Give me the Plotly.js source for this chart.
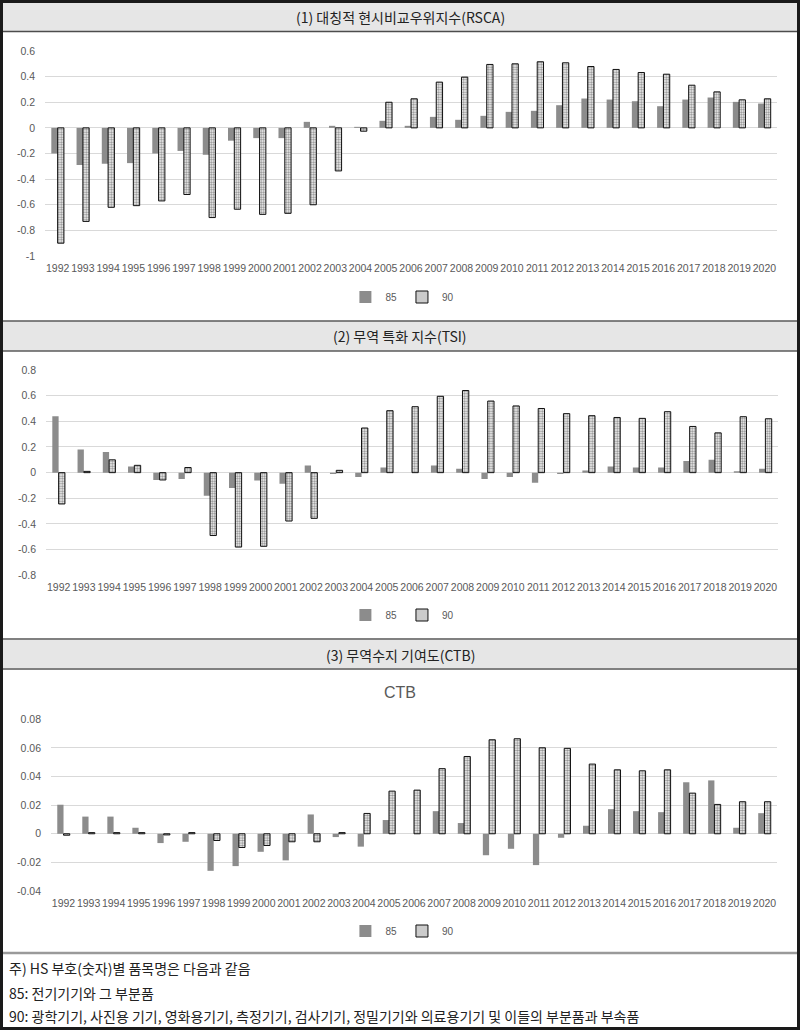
<!DOCTYPE html>
<html>
<head>
<meta charset="utf-8">
<script src="https://cdn.plot.ly/plotly-3.0.1.min.js"></script>
<style>
  html, body { margin: 0; padding: 0; background: #ffffff; }
  #chart { width: 800px; height: 1030px; }
</style>
</head>
<body>
<div id="chart"></div>
<script>
// ---------------- data ----------------
const years = ['1992','1993','1994','1995','1996','1997','1998','1999','2000','2001','2002','2003','2004','2005','2006','2007','2008','2009','2010','2011','2012','2013','2014','2015','2016','2017','2018','2019','2020'];

const rsca85 = [-0.20,-0.29,-0.28,-0.275,-0.20,-0.18,-0.21,-0.10,-0.08,-0.08,0.047,0.016,0.008,0.055,0.016,0.086,0.063,0.094,0.125,0.133,0.177,0.229,0.221,0.208,0.169,0.221,0.237,0.203,0.19];
const rsca90 = [-0.90,-0.73,-0.62,-0.607,-0.57,-0.52,-0.70,-0.635,-0.675,-0.667,-0.60,-0.336,-0.026,0.20,0.227,0.357,0.396,0.495,0.50,0.516,0.508,0.479,0.456,0.432,0.419,0.333,0.281,0.219,0.227];

const tsi85 = [0.44,0.18,0.16,0.047,-0.057,-0.05,-0.18,-0.12,-0.062,-0.086,0.055,-0.01,-0.034,0.04,0,0.055,0.031,-0.05,-0.034,-0.078,-0.01,0.016,0.047,0.04,0.04,0.09,0.10,0.01,0.031];
const tsi90 = [-0.244,0.01,0.10,0.057,-0.057,0.04,-0.49,-0.58,-0.574,-0.377,-0.356,0.018,0.348,0.483,0.514,0.595,0.64,0.558,0.52,0.50,0.46,0.444,0.43,0.423,0.475,0.36,0.31,0.436,0.42];

const ctb85 = [0.0203,0.012,0.012,0.0042,-0.0065,-0.0056,-0.0259,-0.0226,-0.0126,-0.0186,0.0135,-0.0023,-0.009,0.0096,0,0.0158,0.0075,-0.015,-0.0105,-0.0219,-0.0028,0.0056,0.0172,0.0158,0.0151,0.036,0.0373,0.0042,0.0144];
const ctb90 = [-0.001,0.0008,0.0008,0.0008,-0.0008,0.0008,-0.0047,-0.0096,-0.0082,-0.0056,-0.0056,0.0008,0.0142,0.0298,0.0305,0.0455,0.054,0.0657,0.0664,0.0601,0.0597,0.0487,0.0447,0.044,0.0447,0.0284,0.0205,0.0224,0.0224];

const seriesNames = ['85', '90'];

const rscaTicks = [0.6,0.4,0.2,0,-0.2,-0.4,-0.6,-0.8,-1];
const rscaTickText = ['0.6','0.4','0.2','0','-0.2','-0.4','-0.6','-0.8','-1'];
const tsiTicks = [0.8,0.6,0.4,0.2,0,-0.2,-0.4,-0.6,-0.8];
const tsiTickText = ['0.8','0.6','0.4','0.2','0','-0.2','-0.4','-0.6','-0.8'];
const ctbTicks = [0.08,0.06,0.04,0.02,0,-0.02,-0.04];
const ctbTickText = ['0.08','0.06','0.04','0.02','0','-0.02','-0.04'];

const panelTitles = ['(1) 대칭적 현시비교우위지수(RSCA)', '(2) 무역 특화 지수(TSI)', '(3) 무역수지 기여도(CTB)'];
const innerTitle = 'CTB';
const notes = [
  '주) HS 부호(숫자)별 품목명은 다음과 같음',
  '85: 전기기기와 그 부분품',
  '90: 광학기기, 사진용 기기, 영화용기기, 측정기기, 검사기기, 정밀기기와 의료용기기 및 이들의 부분품과 부속품'
];

// ---------------- helpers ----------------
const W = 800, H = 1030;
const px = x => x / W;
const py = y => 1 - y / H;

const style85 = { color: '#8c8c8c' };
const style90 = {
  color: '#ffffff',
  line: { color: '#111111', width: 1 },
  pattern: { shape: '.', fgcolor: '#8a8a8a', bgcolor: '#ffffff', size: 2.5, solidity: 0.5 }
};

function pair(vals85, vals90, xa, ya, leg) {
  return [
    { type: 'bar', x: years, y: vals85, name: seriesNames[0], marker: style85, xaxis: xa, yaxis: ya, legend: leg, hoverinfo: 'x+y+name' },
    { type: 'bar', x: years, y: vals90, name: seriesNames[1], marker: style90, xaxis: xa, yaxis: ya, legend: leg, hoverinfo: 'x+y+name' }
  ];
}

const data = [].concat(
  pair(rsca85, rsca90, 'x', 'y', 'legend'),
  pair(tsi85, tsi90, 'x2', 'y2', 'legend2'),
  pair(ctb85, ctb90, 'x3', 'y3', 'legend3')
);

const tickFont = { family: 'Liberation Sans, Arial, sans-serif', size: 10.5, color: '#595959' };

function xaxis(l, r, anchor) {
  return {
    domain: [px(l), px(r)], anchor: anchor, type: 'category',
    showgrid: false, zeroline: false, showline: false, ticks: '',
    tickangle: 0, tickfont: tickFont, ticklabelstandoff: 4, fixedrange: true
  };
}
function yaxis(top, bottom, range, vals, text, anchor) {
  return {
    domain: [py(bottom), py(top)], anchor: anchor, range: range,
    tickvals: vals, ticktext: text, tickfont: tickFont,
    showgrid: true, gridcolor: '#d9d9d9', gridwidth: 1,
    zeroline: false, showline: false, ticks: '', ticklabelstandoff: 9, fixedrange: true
  };
}

function legendAt(y) {
  return {
    orientation: 'h', x: 0.503, xanchor: 'center', y: py(y), yanchor: 'middle',
    font: { family: 'Liberation Sans, Arial, sans-serif', size: 10, color: '#595959' },
    bgcolor: 'rgba(0,0,0,0)', itemwidth: 30, tracegroupgap: 0, itemclick: false, itemdoubleclick: false
  };
}

// ---------------- decorations ----------------
const shapes = [];
function rectPx(x0, y0, x1, y1, fill, line) {
  shapes.push({
    type: 'rect', xref: 'paper', yref: 'paper',
    x0: px(x0), x1: px(x1), y0: py(y1), y1: py(y0),
    fillcolor: fill, line: line || { width: 0 }, layer: 'above'
  });
}
function hline(y, color, width) {
  shapes.push({
    type: 'line', xref: 'paper', yref: 'paper',
    x0: px(3), x1: px(797), y0: py(y), y1: py(y),
    line: { color: color, width: width }, layer: 'above'
  });
}
// header bars
rectPx(3, 3, 797, 31.5, '#e6e6e6');
hline(31.5, '#4d4d4d', 1.5);
rectPx(3, 321, 797, 351, '#e6e6e6');
hline(321, '#5a5a5a', 1.5);
hline(351, '#5a5a5a', 1.5);
rectPx(3, 639, 797, 669, '#e6e6e6');
hline(639, '#808080', 2);
hline(669, '#808080', 2);
// footer separator
hline(953, '#9a9a9a', 2.5);
// outer dark frame
rectPx(0, 0, 3, 1030, '#1a1a1a');
rectPx(797, 0, 800, 1030, '#1a1a1a');
rectPx(0, 0, 800, 3, '#1a1a1a');
rectPx(0, 1027, 800, 1030, '#1a1a1a');

const korFont = 'Noto Sans CJK KR, Noto Sans, sans-serif';
function note(text, x, y, anchor, font) {
  return { text: text, x: x, y: y, xref: 'paper', yref: 'paper', showarrow: false, xanchor: anchor, yanchor: 'middle', font: font };
}
const headFont = { family: korFont, size: 14, color: '#222222' };
const annotations = [
  note(panelTitles[0], 0.5, py(17.5), 'center', headFont),
  note(panelTitles[1], 0.5, py(336.5), 'center', headFont),
  note(panelTitles[2], 0.5, py(654.5), 'center', headFont),
  note(innerTitle, 0.5, py(692), 'center', { family: 'Liberation Sans, Arial, sans-serif', size: 16, color: '#595959' }),
  note(notes[0], px(7), py(968), 'left', headFont),
  note(notes[1], px(7), py(993), 'left', headFont),
  note(notes[2], px(7), py(1016), 'left', headFont)
];

const layout = {
  width: W, height: H,
  margin: { l: 0, r: 0, t: 0, b: 0 },
  paper_bgcolor: '#ffffff', plot_bgcolor: '#ffffff',
  barmode: 'group', bargap: 0.5, bargroupgap: 0,
  showlegend: true,
  xaxis: xaxis(45, 777, 'y'),
  yaxis: yaxis(51, 256, [-1, 0.6], rscaTicks, rscaTickText, 'x'),
  xaxis2: xaxis(46, 778, 'y2'),
  yaxis2: yaxis(370, 575.3, [-0.8, 0.8], tsiTicks, tsiTickText, 'x2'),
  xaxis3: xaxis(51, 777, 'y3'),
  yaxis3: yaxis(719.3, 891, [-0.04, 0.08], ctbTicks, ctbTickText, 'x3'),
  legend: legendAt(297),
  legend2: legendAt(615),
  legend3: legendAt(931),
  shapes: shapes,
  annotations: annotations,
  font: { family: 'Liberation Sans, Arial, sans-serif' }
};

Plotly.newPlot('chart', data, layout, { displayModeBar: false, staticPlot: true });
</script>
</body>
</html>
